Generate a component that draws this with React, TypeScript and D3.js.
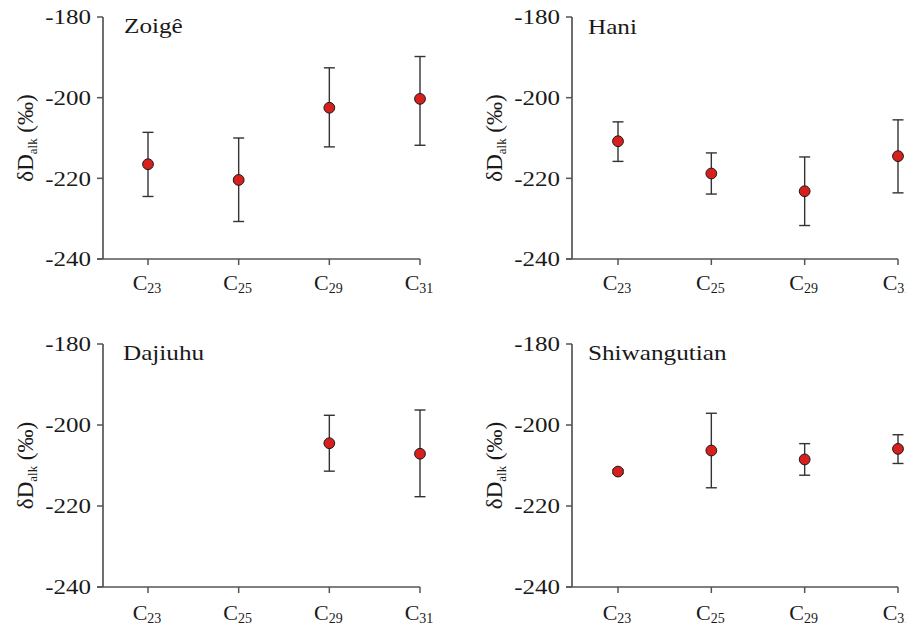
import React from 'react';
import * as d3 from 'd3';

const CATEGORIES = ['C23', 'C25', 'C29', 'C31'];
const Y_TICKS = [-180, -200, -220, -240];

const SITES = ['Zoigê', 'Hani', 'Dajiuhu', 'Shiwangutian'];

// mean, lower end of error bar, upper end of error bar (null = no data)
const ZOIGE_MEAN = [-216.5, -220.4, -202.5, -200.3];
const ZOIGE_LOW = [-224.5, -230.7, -212.2, -211.8];
const ZOIGE_HIGH = [-208.6, -210.0, -192.6, -189.8];

const HANI_MEAN = [-210.8, -218.8, -223.2, -214.5];
const HANI_LOW = [-215.8, -223.9, -231.7, -223.6];
const HANI_HIGH = [-206.0, -213.7, -214.7, -205.5];

const DAJIUHU_MEAN = [null, null, -204.5, -207.1];
const DAJIUHU_LOW = [null, null, -211.4, -217.7];
const DAJIUHU_HIGH = [null, null, -197.6, -196.3];

const SHIWANG_MEAN = [-211.5, -206.3, -208.5, -205.9];
const SHIWANG_LOW = [-212.0, -215.5, -212.4, -209.5];
const SHIWANG_HIGH = [-211.0, -197.1, -204.6, -202.4];

const SERIES = [
  { mean: ZOIGE_MEAN, low: ZOIGE_LOW, high: ZOIGE_HIGH },
  { mean: HANI_MEAN, low: HANI_LOW, high: HANI_HIGH },
  { mean: DAJIUHU_MEAN, low: DAJIUHU_LOW, high: DAJIUHU_HIGH },
  { mean: SHIWANG_MEAN, low: SHIWANG_LOW, high: SHIWANG_HIGH },
];

// panel geometry: y-axis x, first/last category x, top/bottom of y range
const PANELS = [
  { axisX: 103, x0: 148, x1: 420, top: 17, bottom: 259, labelX: 33, titleX: 124, titleY: 33, xLabY: 290 },
  { axisX: 572, x0: 618, x1: 898, top: 17, bottom: 259, labelX: 502, titleX: 588, titleY: 34, xLabY: 290 },
  { axisX: 103, x0: 148, x1: 420, top: 344, bottom: 587, labelX: 33, titleX: 123, titleY: 360, xLabY: 620 },
  { axisX: 572, x0: 618, x1: 898, top: 344, bottom: 587, labelX: 502, titleX: 588, titleY: 360, xLabY: 620 },
];

const FONT = '"Liberation Serif", "Times New Roman", serif';
const AXIS = '#555';
const BAR = '#333';
const DOT = '#d7201e';
const INK = '#1a1a1a';

function Panel({ idx }: { idx: number }) {
  const p = PANELS[idx];
  const s = SERIES[idx];
  const x = d3.scalePoint<string>().domain(CATEGORIES).range([p.x0, p.x1]);
  const y = d3.scaleLinear().domain([-240, -180]).range([p.bottom, p.top]);
  const cap = 5.5;

  return (
    <g>
      {/* axes */}
      <line x1={p.axisX} x2={p.axisX} y1={y(-180)} y2={y(-240)} stroke={AXIS} strokeWidth={1.7} />
      <line x1={p.axisX - 6} x2={x('C31')!} y1={y(-240)} y2={y(-240)} stroke={AXIS} strokeWidth={1.7} />
      {Y_TICKS.map((t) => (
        <g key={t}>
          <line x1={p.axisX - 6} x2={p.axisX} y1={y(t)} y2={y(t)} stroke={AXIS} strokeWidth={1.5} />
          <text
            transform={`translate(${p.axisX - 12},${y(t)}) scale(1.25,1)`}
            dy="0.36em"
            textAnchor="end"
            fontFamily={FONT}
            fontSize={20}
            fill={INK}
          >
            {t}
          </text>
        </g>
      ))}
      {CATEGORIES.map((c) => (
        <g key={c}>
          <line x1={x(c)!} x2={x(c)!} y1={y(-240)} y2={y(-240) + 6} stroke={AXIS} strokeWidth={1.5} />
          <text x={x(c)! - 1} y={p.xLabY} textAnchor="middle" fontFamily={FONT} fontSize={22} fill={INK}>
            {c.slice(0, 1)}
            <tspan fontSize={14} dy={3}>
              {c.slice(1)}
            </tspan>
          </text>
        </g>
      ))}
      {/* y label */}
      <text
        transform={`translate(${p.labelX},${(p.top + p.bottom) / 2}) rotate(-90)`}
        textAnchor="middle"
        fontFamily={FONT}
        fontSize={23}
        fill={INK}
      >
        δD
        <tspan fontSize={13} dy={4}>
          alk
        </tspan>
        <tspan dy={-4} fontSize={23}>
          {' '}(‰)
        </tspan>
      </text>
      {/* title */}
      <text
        transform={`translate(${p.titleX},${p.titleY}) scale(1.2,1)`}
        fontFamily={FONT}
        fontSize={21}
        fill={INK}
      >
        {SITES[idx]}
      </text>
      {/* error bars */}
      {CATEGORIES.map((c, i) =>
        s.mean[i] == null ? null : (
          <g key={'e' + c} stroke={BAR} strokeWidth={1.4}>
            <line x1={x(c)!} x2={x(c)!} y1={y(s.low[i] as number)} y2={y(s.high[i] as number)} />
            <line x1={x(c)! - cap} x2={x(c)! + cap} y1={y(s.low[i] as number)} y2={y(s.low[i] as number)} />
            <line x1={x(c)! - cap} x2={x(c)! + cap} y1={y(s.high[i] as number)} y2={y(s.high[i] as number)} />
          </g>
        )
      )}
      {/* points */}
      {CATEGORIES.map((c, i) =>
        s.mean[i] == null ? null : (
          <circle key={'p' + c} cx={x(c)!} cy={y(s.mean[i] as number)} r={5.4} fill={DOT} stroke="#1a1a1a" strokeWidth={1} />
        )
      )}
    </g>
  );
}

export default function App() {
  return (
    <svg
      width={906}
      height={626}
      style={{ position: 'absolute', left: 0, top: 0, background: '#fff' }}
    >
      {PANELS.map((_, i) => (
        <Panel key={i} idx={i} />
      ))}
    </svg>
  );
}
